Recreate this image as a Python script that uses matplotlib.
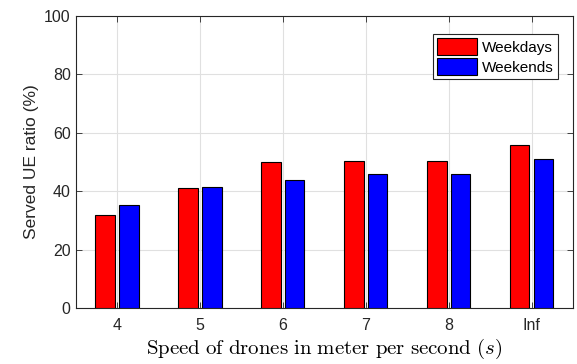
import matplotlib
matplotlib.use("Agg")
import matplotlib.pyplot as plt
import numpy as np

categories = ["4", "5", "6", "7", "8", "Inf"]
weekdays = [32.0, 41.0, 50.0, 50.4, 50.4, 55.9]
weekends = [35.3, 41.3, 43.7, 46.0, 46.0, 51.1]

plt.rcParams['font.family'] = ['Liberation Sans', 'DejaVu Sans']
plt.rcParams['mathtext.fontset'] = 'cm'

fig = plt.figure(figsize=(5.77, 3.64), dpi=100)
ax = fig.add_axes([0.131, 0.154, 0.862, 0.802])

x = np.arange(1, len(categories) + 1)
w = 0.235
off = 0.143
ax.bar(x - off, weekdays, w, color='#ff0000', edgecolor='black', linewidth=0.8, label='Weekdays', zorder=3)
ax.bar(x + off, weekends, w, color='#0000ff', edgecolor='black', linewidth=0.8, label='Weekends', zorder=3)

ax.set_xlim(0.5, 6.5)
ax.set_ylim(0, 100)
ax.set_xticks(x)
ax.set_xticklabels(categories)
ax.set_yticks(np.arange(0, 101, 20))
ax.grid(True, color='#e0e0e0', linewidth=0.8, zorder=0)
ax.set_axisbelow(True)
ax.tick_params(direction='in', top=True, right=True, labelsize=11.5, colors='#262626', length=4, width=0.6)
ax.tick_params(axis='x', pad=7)
for s in ax.spines.values():
    s.set_color('#262626')
    s.set_linewidth(0.8)

ax.set_ylabel('Served UE ratio (%)', fontsize=12.5, color='#262626')
ax.set_xlabel(r'$\mathrm{Speed\ of\ drones\ in\ meter\ per\ second\ }(s)$', fontsize=15, labelpad=3)

leg = ax.legend(loc='upper right', fontsize=11, frameon=True, fancybox=False,
                edgecolor='#262626', framealpha=1, handlelength=2.6, handleheight=1.3,
                handletextpad=0.3, borderpad=0.3, labelspacing=0.2,
                bbox_to_anchor=(0.985, 0.965))
leg.get_frame().set_linewidth(0.8)

fig.savefig('out.png', dpi=100)
